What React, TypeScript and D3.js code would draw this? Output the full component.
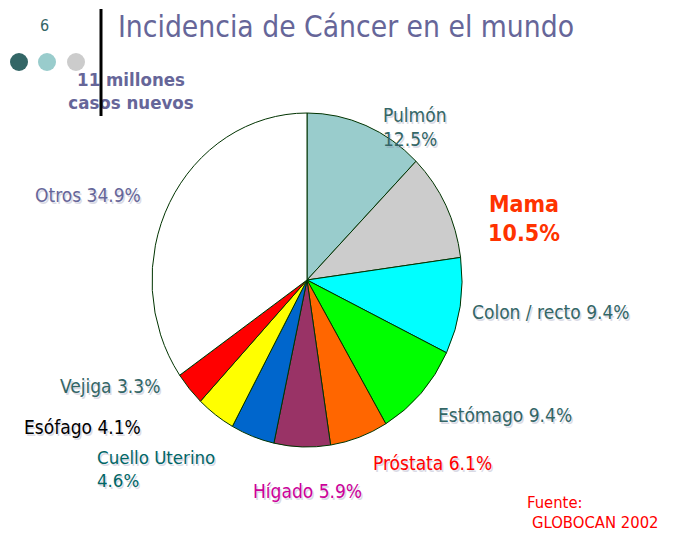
import React from "react";
import * as d3 from "d3";

const categories = ["Pulmón", "Mama", "Colon / recto", "Estómago", "Próstata", "Hígado", "Cuello Uterino", "Esófago", "Vejiga", "Otros"];
const values = [12.5, 10.5, 9.4, 9.4, 6.1, 5.9, 4.6, 4.1, 3.3, 34.9];
const colors = ["#99CCCC", "#CCCCCC", "#00FFFF", "#00FF00", "#FF6600", "#993366", "#0066CC", "#FFFF00", "#FF0000", "#FFFFFF"];

const W = 674, H = 533;
const cx = 307, cy = 280, rx = 155, ry = 167;
const FONT = "Tahoma, 'DejaVu Sans Condensed', 'DejaVu Sans', sans-serif";

type Lbl = { lines: string[]; x: number; y: number; color: string; size: number; bold?: boolean; anchor?: string; lh?: number; shadow?: boolean };

const labels: Lbl[] = [
  { lines: ["Pulmón", "12.5%"], x: 383, y: 122, color: "#336666", size: 19, lh: 24, shadow: true },
  { lines: ["Mama", "10.5%"], x: 524, y: 212, color: "#FF3300", size: 23, bold: true, anchor: "middle", lh: 29 },
  { lines: ["Colon / recto 9.4%"], x: 472, y: 319, color: "#336666", size: 19, shadow: true },
  { lines: ["Estómago 9.4%"], x: 438, y: 422, color: "#336666", size: 19, shadow: true },
  { lines: ["Próstata 6.1%"], x: 373, y: 470, color: "#FF0000", size: 19, shadow: true },
  { lines: ["Hígado 5.9%"], x: 253, y: 498, color: "#CC0099", size: 19, shadow: true },
  { lines: ["Cuello Uterino", "4.6%"], x: 97, y: 464, color: "#006666", size: 18.5, lh: 23, shadow: true },
  { lines: ["Esófago 4.1%"], x: 24, y: 434, color: "#000000", size: 19, shadow: true },
  { lines: ["Vejiga 3.3%"], x: 60, y: 393, color: "#336666", size: 19, shadow: true },
  { lines: ["Otros 34.9%"], x: 35, y: 202, color: "#666699", size: 19, shadow: true },
];

export default function App() {
  const pie = d3.pie<number>().sort(null).value((d) => d)(values);
  const R = 100;
  const arc = d3.arc<d3.PieArcDatum<number>>().innerRadius(0).outerRadius(R);

  const renderLabel = (l: Lbl, i: number) => {
    const lh = l.lh ?? 22;
    return (
      <g key={i} fontFamily={FONT} fontSize={l.size} fontWeight={l.bold ? "bold" : "normal"} textAnchor={l.anchor ?? "start"}>
        {l.shadow &&
          l.lines.map((t, j) => (
            <text key={"s" + j} x={l.x + 1.5} y={l.y + j * lh + 1.5} fill="#8888AA" opacity={0.3}>{t}</text>
          ))}
        {l.lines.map((t, j) => (
          <text key={j} x={l.x} y={l.y + j * lh} fill={l.color}>{t}</text>
        ))}
      </g>
    );
  };

  return (
    <svg width={W} height={H} style={{ position: "absolute", left: 0, top: 0 }}>
      <rect width={W} height={H} fill="#FFFFFF" />
      <text x={40} y={31} fontFamily={FONT} fontSize={16} fill="#336666">6</text>
      <circle cx={19} cy={62} r={9} fill="#336666" />
      <circle cx={47} cy={62} r={9} fill="#99CCCC" />
      <circle cx={76} cy={62} r={9} fill="#CCCCCC" />
      <text x={118} y={37} fontFamily={FONT} fontSize={29.7} fill="#666699">Incidencia de Cáncer en el mundo</text>
      <g fontFamily={FONT} fontSize={18.5} fontWeight="bold" fill="#666699" textAnchor="middle">
        <text x={131} y={86}>11 millones</text>
        <text x={131} y={109}>casos nuevos</text>
      </g>
      <line x1={101} y1={9} x2={101} y2={116} stroke="#000" strokeWidth={3} />
      <g transform={`translate(${cx},${cy}) scale(${rx / R},${ry / R})`}>
        {pie.map((p, i) => (
          <path key={categories[i]} d={arc(p) as string} fill={colors[i]} stroke="#003300" strokeWidth={1} vectorEffect="non-scaling-stroke" />
        ))}
      </g>
      {labels.map(renderLabel)}
      <g fontFamily={FONT} fontSize={16.5} fill="#FF0000">
        <text x={527} y={508}>Fuente:</text>
        <text x={532} y={528}>GLOBOCAN 2002</text>
      </g>
    </svg>
  );
}
